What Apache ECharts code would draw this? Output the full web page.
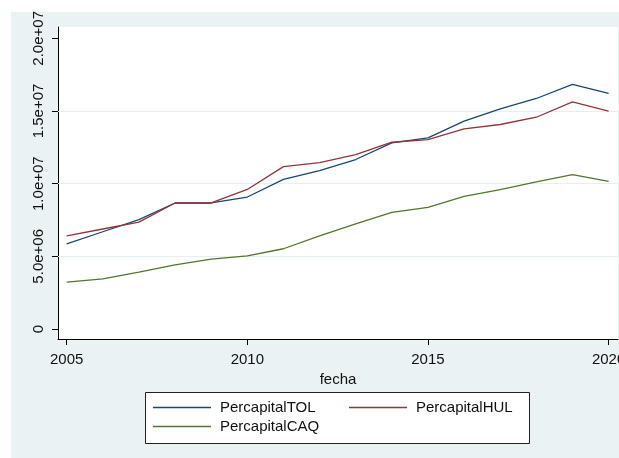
<!DOCTYPE html>
<html>
<head>
<meta charset="utf-8">
<script src="https://cdn.jsdelivr.net/npm/echarts@6/dist/echarts.min.js"></script>
<style>html,body{margin:0;padding:0;background:#fff}#c{width:619px;height:458px}</style>
</head>
<body>
<div id="c"></div>
<script>
const years = [2005,2006,2007,2008,2009,2010,2011,2012,2013,2014,2015,2016,2017,2018,2019,2020];
const tol = [5.86e6,6.69e6,7.52e6,8.67e6,8.67e6,9.08e6,1.03e7,1.09e7,1.166e7,1.28e7,1.315e7,1.43e7,1.515e7,1.586e7,1.683e7,1.621e7];
const hul = [6.41e6,6.88e6,7.35e6,8.67e6,8.67e6,9.6e6,1.117e7,1.145e7,1.2e7,1.285e7,1.303e7,1.377e7,1.407e7,1.457e7,1.563e7,1.499e7];
const caq = [3.22e6,3.45e6,3.91e6,4.41e6,4.8e6,5.03e6,5.52e6,6.4e6,7.24e6,8.02e6,8.37e6,9.12e6,9.59e6,1.012e7,1.062e7,1.016e7];
const xTicks = [2005,2010,2015,2020];
const yTicks = [0,5e6,1e7,1.5e7,2e7];
const yTickLabels = ['0','5.0e+06','1.0e+07','1.5e+07','2.0e+07'];
const gridValues = [5e6,1e7,1.5e7];
const names = ['PercapitalTOL','PercapitalHUL','PercapitalCAQ'];

const FONT = "'Liberation Sans',Arial,sans-serif";
const FS = 15;
const pair = arr => arr.map((v,i)=>[years[i], v]);
const chart = echarts.init(document.getElementById('c'), null, {renderer:'canvas'});
const ln = (name, data, color) => ({
  name, type:'line', data: pair(data), symbol:'none', z:6,
  lineStyle:{color, width:1.3}, itemStyle:{color}
});
chart.setOption({
  animation:false,
  backgroundColor:'#ffffff',
  graphic:[
    {type:'rect', z:-100, shape:{x:11,y:12,width:608,height:446}, style:{fill:'#eaf2f3'}},
    {type:'rect', z:3, shape:{x:145.5,y:392.5,width:384,height:51}, style:{fill:'#ffffff', stroke:'#222', lineWidth:1}}
  ],
  grid:{left:58, right:1, top:27, bottom:119, show:true, backgroundColor:'#ffffff', borderWidth:0,
        containLabel:false, outerBoundsMode:'none'},
  xAxis:{
    type:'value', min:2004.76, max:2020.26,
    axisLine:{show:true, onZero:false, lineStyle:{color:'#000', width:1}},
    axisTick:{show:true, length:6, customValues:xTicks, lineStyle:{color:'#000'}},
    axisLabel:{customValues:xTicks, color:'#111', fontFamily:FONT, fontSize:FS, margin:13, formatter:v=>String(v)},
    splitLine:{show:false},
    name:'fecha', nameLocation:'middle', nameGap:32,
    nameTextStyle:{color:'#111', fontFamily:FONT, fontSize:FS}
  },
  yAxis:{
    type:'value', min:-689655, max:20779310,
    axisLine:{show:true, onZero:false, lineStyle:{color:'#000', width:1}},
    axisTick:{show:true, length:6, customValues:yTicks, lineStyle:{color:'#000'}},
    axisLabel:{customValues:yTicks, rotate:90, color:'#111', fontFamily:FONT, fontSize:FS, margin:12,
      formatter:v=>{const i=yTicks.indexOf(v); return i>=0?yTickLabels[i]:'';}},
    splitLine:{show:false}
  },
  legend:[
    {data:[names[0],names[2]], orient:'vertical', left:153, top:400, padding:0, itemGap:4,
     itemWidth:58, itemHeight:1.5, icon:'rect',
     textStyle:{color:'#111', fontFamily:FONT, fontSize:FS, padding:[0,0,0,4]}},
    {data:[names[1]], orient:'vertical', left:349, top:400, padding:0, itemGap:4,
     itemWidth:58, itemHeight:1.5, icon:'rect',
     textStyle:{color:'#111', fontFamily:FONT, fontSize:FS, padding:[0,0,0,4]}}
  ],
  series:[
    {type:'line', data:[], silent:true, z:1,
     markLine:{silent:true, z:1, symbol:'none', label:{show:false},
       lineStyle:{color:'#e8eff1', width:1, type:'solid'},
       data: gridValues.map(v=>({yAxis:v}))}},
    ln(names[0], tol, '#1a476f'),
    ln(names[1], hul, '#90353b'),
    ln(names[2], caq, '#55752f')
  ]
});
</script>
</body>
</html>
